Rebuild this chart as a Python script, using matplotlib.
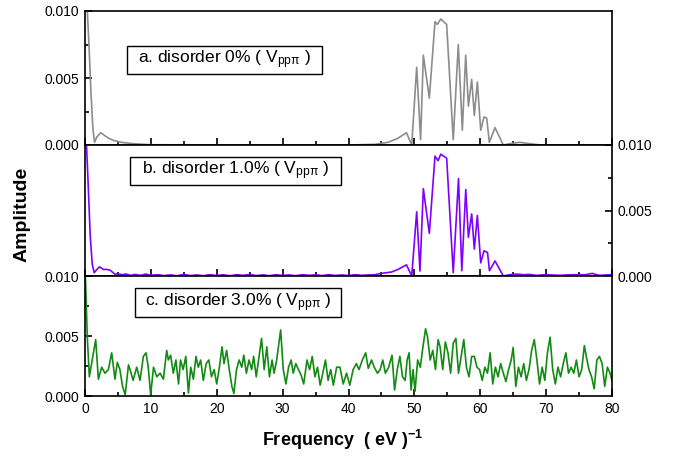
import numpy as np
import matplotlib
matplotlib.use("Agg")
import matplotlib.pyplot as plt
from matplotlib.patches import Rectangle
from matplotlib.ticker import MultipleLocator

plt.rcParams["font.family"] = ["Liberation Sans", "DejaVu Sans"]
plt.rcParams["mathtext.fontset"] = "custom"
plt.rcParams["mathtext.rm"] = "Liberation Sans"
plt.rcParams["mathtext.it"] = "Liberation Sans:italic"
plt.rcParams["mathtext.bf"] = "Liberation Sans:bold"

# ----------------------------------------------------------------------
# Data (frequency in (eV)^-1, amplitude)
# ----------------------------------------------------------------------
a_freq = [0, 0.3, 0.6, 0.9, 1.2, 1.45, 1.8, 2.4, 3.0, 3.6, 4.3, 5.5, 7.3, 10, 20, 40,
          44, 46, 47.5, 48.8, 49.6, 50.35, 50.95, 51.36, 52.27, 53.13, 53.48, 54.0,
          54.9, 55.9, 56.67, 57.28, 57.79, 58.2, 58.7, 59.1, 59.56, 60.07, 60.57,
          60.98, 61.38, 62.24, 63.5, 64.5, 66.0, 67.5, 69.1, 80]
a_amp = [0.0125, 0.0105, 0.0075, 0.004, 0.0012, 0.0002, 0.0006, 0.00092, 0.0007,
         0.0005, 0.00035, 0.0002, 0.0001, 0.00002, 0.0, 0.0,
         0.00005, 0.0002, 0.0005, 0.00092, 0.0, 0.0058, 0.0004, 0.0067, 0.0035,
         0.0092, 0.0090, 0.0094, 0.0090, 0.0004, 0.0075, 0.0011, 0.0067, 0.0029,
         0.0049, 0.0022, 0.0047, 0.0011, 0.0021, 0.0020, 0.0002, 0.0013, 0.0,
         0.0001, 0.0002, 0.0001, 0.0, 0.0]

b_freq = [0, 0.4, 0.8, 1.1, 1.4, 1.8, 2.2, 2.8, 3.3, 3.8, 4.55, 5.0, 5.6, 6.2, 7.0,
          7.6, 8.5, 9.2, 10, 11, 12, 13, 14, 15, 16, 17, 18, 19, 20, 21, 22, 23, 24,
          25, 26, 27, 28, 29, 30, 31, 32, 33, 34, 35, 36, 37, 38, 39, 40, 41, 42, 43,
          44, 45, 46.5, 47.5, 48.8, 49.6, 50.35, 50.85, 51.36, 52.27, 53.13, 53.6,
          54.0, 54.9, 55.9, 56.7, 57.2, 57.8, 58.2, 58.7, 59.1, 59.56, 60.07, 60.57,
          61.1, 61.4, 62.24, 63.5, 64.5, 65.5, 66.5, 67.5, 68.5, 70, 72, 74, 76, 77,
          78, 80]
b_amp = [0.0125, 0.008, 0.003, 0.0009, 0.00025, 0.0005, 0.0007, 0.0005, 0.0005,
         0.00045, 0.00013, 0.00018, 0.0001, 0.00015, 0.00005, 0.00012, 0.00005,
         0.00015, 0.00005, 0.0001, 0.00003, 0.00008, 0.00002, 0.00012, 0.00003,
         0.00008, 0.00002, 0.0001, 0.00004, 0.00009, 0.00002, 0.0001, 0.00005,
         0.00012, 0.00003, 0.00008, 0.00002, 0.0001, 0.00004, 0.00008, 0.00002,
         0.0001, 0.00005, 0.00009, 0.00003, 0.0001, 0.00004, 0.00008, 0.00003,
         0.0001, 0.00005, 0.00008, 0.0001, 0.0002, 0.0003, 0.0005, 0.00085, 0.0,
         0.0049, 0.00038, 0.00667, 0.00326, 0.00915, 0.0088, 0.0093, 0.0090,
         0.00025, 0.00744, 0.0004, 0.0066, 0.00295, 0.00474, 0.00205, 0.00462,
         0.001, 0.00192, 0.0018, 0.0004, 0.00115, 0.0, 0.0001, 0.00015, 0.0001,
         0.00012, 0.00005, 0.0001, 0.00005, 0.0001, 0.0001, 0.0002, 0.00005, 0.0001]

# panel c amplitude in units of 1e-3
c_freq = [0, 0.35, 0.66, 1.62, 2.03, 2.53, 3.04, 3.55, 4.05, 4.55, 4.9, 5.3, 5.7, 6.1,
          6.6, 7.0, 7.3, 7.85, 8.35, 8.86, 9.26, 9.6, 9.97, 10.4, 10.9, 11.4, 11.9,
          12.4, 12.65, 13.0, 13.4, 13.8, 14.2, 14.5, 14.9, 15.3, 15.7, 16.05, 16.45,
          16.85, 17.2, 17.56, 17.96, 18.4, 18.8, 19.2, 19.6, 20.0, 20.4, 20.8, 21.1,
          21.5, 21.9, 22.3, 22.6, 23.0, 23.4, 23.8, 24.1, 24.5, 24.9, 25.3, 25.6,
          26.0, 26.5, 26.8, 27.2, 27.6, 28.0, 28.4, 28.7, 29.1, 29.7, 30.1, 30.5,
          30.9, 31.3, 31.6, 32.0, 32.4, 32.8, 33.2, 33.7, 34.1, 34.5, 34.9, 35.3,
          35.7, 36.1, 36.5, 36.9, 37.3, 37.7, 38.2, 38.7, 39.2, 39.7, 40.2, 40.7,
          41.2, 41.6, 42.1, 42.6, 43.0, 43.5, 43.9, 44.4, 44.8, 45.2, 45.6, 46.1,
          46.6, 47.0, 47.4, 47.8, 48.2, 48.6, 48.9, 49.2, 49.5, 49.8, 50.1, 50.5,
          50.9, 51.3, 51.7, 52.0, 52.4, 52.8, 53.2, 53.6, 53.9, 54.3, 54.7, 55.1,
          55.5, 55.9, 56.3, 56.7, 57.1, 57.5, 57.9, 58.3, 58.7, 59.1, 59.5, 59.9,
          60.3, 60.7, 61.1, 61.5, 61.9, 62.3, 62.7, 63.1, 63.5, 63.9, 64.3, 64.7,
          65.0, 65.4, 65.8, 66.2, 66.6, 67.0, 67.4, 67.8, 68.2, 68.6, 69.0, 69.4,
          69.8, 70.2, 70.6, 71.0, 71.4, 71.8, 72.2, 72.6, 73.0, 73.4, 73.8, 74.2,
          74.6, 75.0, 75.4, 75.8, 76.1, 76.5, 76.9, 77.3, 77.7, 78.1, 78.5, 78.9,
          79.3, 79.7, 80.0]
c_amp_e3 = [11.0, 4.9, 1.6, 4.7, 1.4, 2.4, 1.9, 2.2, 3.6, 1.4, 2.8, 2.2, 0.8, 0.1,
            2.6, 1.9, 1.3, 2.4, 1.3, 3.3, 3.6, 2.4, 0.1, 2.4, 1.6, 1.9, 1.4,
            3.8, 3.0, 3.4, 1.9, 3.0, 1.0, 3.0, 2.2, 3.3, 0.25, 2.4, 1.4,
            3.3, 2.4, 3.0, 1.3, 2.7, 3.0, 1.6, 2.2, 1.0, 2.4, 4.1, 2.7,
            3.8, 2.2, 0.8, 0.2, 2.2, 3.0, 2.4, 3.4, 1.9, 3.0, 2.2, 3.3,
            1.6, 3.6, 4.8, 2.2, 4.1, 1.6, 3.0, 1.9, 3.0, 5.5, 2.2, 1.0,
            2.4, 3.0, 1.9, 2.7, 2.2, 1.75, 1.0, 3.0, 2.2, 3.3, 1.6, 2.4,
            0.9, 1.9, 3.0, 1.3, 2.2, 0.9, 2.4, 2.4, 1.0, 1.9, 0.9, 2.2,
            2.7, 2.2, 3.0, 3.6, 2.3, 3.0, 2.4, 1.9, 2.2, 3.0, 1.9, 2.4,
            3.4, 0.5, 2.2, 3.3, 1.6, 1.3, 3.0, 3.6, 0.5, 2.2, 0.4, 3.0,
            2.4, 4.1, 5.6, 4.9, 3.0, 3.8, 2.2, 4.7, 4.1, 2.2, 4.5, 3.6,
            1.9, 4.4, 4.8, 1.9, 3.3, 4.7, 2.4, 1.6, 3.3, 3.3, 2.4, 2.2,
            1.3, 2.4, 1.9, 3.6, 1.0, 2.4, 1.6, 2.7, 1.9, 1.2, 2.2, 3.0,
            4.05, 0.8, 2.4, 1.6, 2.7, 1.3, 2.2, 3.8, 4.7, 3.0, 1.0, 2.4,
            1.3, 3.6, 4.9, 2.2, 1.0, 2.4, 1.6, 2.7, 3.6, 1.9, 2.4, 1.9,
            3.0, 1.6, 2.2, 4.2, 3.3, 2.2, 1.6, 0.6, 3.0, 3.3, 2.7, 0.8,
            2.4, 1.9, 1.3]
c_amp = np.array(c_amp_e3) * 1e-3

labels = ["a. disorder 0% ( V$_{\\mathrm{pp\u03c0}}$ )",
          "b. disorder 1.0% ( V$_{\\mathrm{pp\u03c0}}$ )",
          "c. disorder 3.0% ( V$_{\\mathrm{pp\u03c0}}$ )"]
colors = ["#8c8c8c", "#8000ff", "#138a13"]
yticks = [0.000, 0.005, 0.010]

# ----------------------------------------------------------------------
# Figure: three stacked panels sharing the frequency axis
# ----------------------------------------------------------------------
W, H = 677, 457
fig = plt.figure(figsize=(W / 100, H / 100), dpi=100)

def px_axes(top, bottom):
    return fig.add_axes([85 / W, 1 - bottom / H, (612 - 85) / W, (bottom - top) / H])

ax_a = px_axes(11, 145)
ax_b = px_axes(145, 276)
ax_c = px_axes(276, 396)
axes = [ax_a, ax_b, ax_c]

series = [(a_freq, a_amp), (b_freq, b_amp), (c_freq, c_amp)]
# label boxes in axes fraction: (x0, y0, w, h)
boxes = [(0.0797, 0.530, 0.370, 0.209),
         (0.0854, 0.695, 0.400, 0.214),
         (0.0949, 0.658, 0.391, 0.242)]

for i, ax in enumerate(axes):
    f, v = series[i]
    ax.plot(f, v, "-", color=colors[i], linewidth=1.2)
    ax.set_xlim(0, 80)
    ax.set_ylim(0, 0.010)
    for s in ax.spines.values():
        s.set_linewidth(1.2)
    ax.xaxis.set_major_locator(MultipleLocator(10))
    ax.xaxis.set_minor_locator(MultipleLocator(5))
    ax.yaxis.set_major_locator(MultipleLocator(0.005))
    ax.yaxis.set_minor_locator(MultipleLocator(0.0025))
    right = (i == 1)
    ax.tick_params(which="both", direction="in", top=False, bottom=True,
                   left=not right, right=right, labelleft=not right,
                   labelright=right, labelbottom=(i == 2), width=1.2,
                   labelsize=10, pad=4)
    ax.tick_params(which="major", length=5)
    ax.tick_params(which="minor", length=3)
    ax.set_yticks(yticks)
    ax.yaxis.set_major_formatter(plt.FuncFormatter(lambda y, p: f"{y:.3f}"))

    x0, y0, w, h = boxes[i]
    ax.add_patch(Rectangle((x0, y0), w, h, transform=ax.transAxes, fill=True,
                           facecolor="white", edgecolor="black", linewidth=1.0,
                           zorder=5))
    ax.text(x0 + w / 2, y0 + h / 2, labels[i], transform=ax.transAxes,
            ha="center", va="center", fontsize=12.5, zorder=6)

fig.text(22 / W, 1 - 214 / H, "Amplitude", rotation=90, ha="center", va="center",
         fontsize=14, fontweight="bold")
fig.text(343 / W, 1 - 440 / H, "Frequency  ( eV )$^{\\mathbf{-1}}$", ha="center",
         va="center", fontsize=13, fontweight="bold")

plt.savefig("out.png", dpi=100)
